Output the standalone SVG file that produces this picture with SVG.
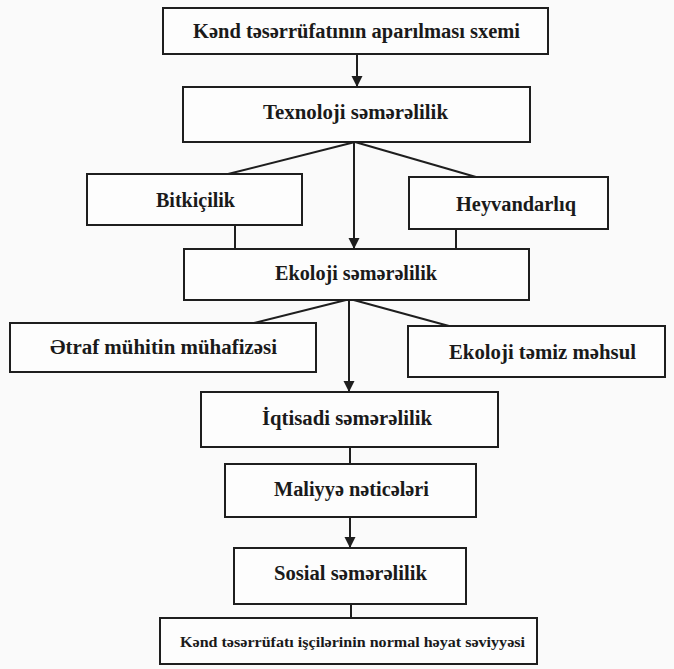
<svg xmlns="http://www.w3.org/2000/svg" width="674" height="669" viewBox="0 0 674 669">
<style>
.box{fill:#fdfdfd;stroke:#1e1e1e;stroke-width:2}
text{font-family:'Liberation Serif','DejaVu Serif','Times New Roman',serif;font-weight:700;font-size:20.5px;fill:#1a1a1a;text-anchor:middle;dominant-baseline:central}
.s{font-size:15.5px}
.c{stroke:#1e1e1e;stroke-width:2;fill:none}
</style>
<defs>
<marker id="ah" viewBox="0 0 10 10" refX="10" refY="5" markerWidth="5.5" markerHeight="6" orient="auto" markerUnits="strokeWidth">
<path d="M0,0 L10,5 L0,10 Z" fill="#1e1e1e"/>
</marker>
</defs>
<rect width="674" height="669" fill="#fafafa"/>
<g id="connectors">
<line class="c" x1="357" y1="54" x2="357" y2="87" marker-end="url(#ah)"/>
<line class="c" x1="355" y1="142" x2="228" y2="174"/>
<line class="c" x1="355" y1="142" x2="476" y2="177"/>
<line class="c" x1="354" y1="142" x2="354" y2="249" marker-end="url(#ah)"/>
<line class="c" x1="235" y1="225" x2="235" y2="249"/>
<line class="c" x1="456" y1="229" x2="456" y2="249"/>
<line class="c" x1="350" y1="299" x2="254" y2="323"/>
<line class="c" x1="350" y1="299" x2="449" y2="326"/>
<line class="c" x1="349" y1="299" x2="349" y2="392" marker-end="url(#ah)"/>
<line class="c" x1="350" y1="447" x2="350" y2="464"/>
<line class="c" x1="350" y1="517" x2="350" y2="548" marker-end="url(#ah)"/>
<line class="c" x1="351" y1="604" x2="351" y2="618"/>
</g>
<g id="n1"><rect class="box" x="163" y="8" width="385" height="46"/><text x="356.5" y="31" textLength="327" lengthAdjust="spacingAndGlyphs">Kənd təsərrüfatının aparılması sxemi</text></g>
<g id="n2"><rect class="box" x="183" y="87" width="347" height="55"/><text x="355.5" y="112" textLength="185" lengthAdjust="spacingAndGlyphs">Texnoloji səmərəlilik</text></g>
<g id="n3"><rect class="box" x="87" y="174" width="215" height="51"/><text x="195.5" y="200" textLength="79" lengthAdjust="spacingAndGlyphs">Bitkiçilik</text></g>
<g id="n4"><rect class="box" x="409" y="177" width="199" height="52"/><text x="516" y="204" textLength="120" lengthAdjust="spacingAndGlyphs">Heyvandarlıq</text></g>
<g id="n5"><rect class="box" x="184" y="249" width="345" height="51"/><text x="356" y="273" textLength="162" lengthAdjust="spacingAndGlyphs">Ekoloji səmərəlilik</text></g>
<g id="n6"><rect class="box" x="10" y="323" width="306" height="49"/><text x="163.5" y="347" textLength="227" lengthAdjust="spacingAndGlyphs">Ətraf mühitin mühafizəsi</text></g>
<g id="n7"><rect class="box" x="408" y="326" width="257" height="51"/><text x="542.5" y="352" textLength="187" lengthAdjust="spacingAndGlyphs">Ekoloji təmiz məhsul</text></g>
<g id="n8"><rect class="box" x="201" y="392" width="297" height="55"/><text x="347" y="418" textLength="170" lengthAdjust="spacingAndGlyphs">İqtisadi səmərəlilik</text></g>
<g id="n9"><rect class="box" x="225" y="464" width="251" height="53"/><text x="351.5" y="489" textLength="155" lengthAdjust="spacingAndGlyphs">Maliyyə nəticələri</text></g>
<g id="n10"><rect class="box" x="234" y="548" width="232" height="56"/><text x="350.5" y="573" textLength="153" lengthAdjust="spacingAndGlyphs">Sosial səmərəlilik</text></g>
<g id="n11"><rect class="box" x="160" y="618" width="377" height="46"/><text class="s" x="352.5" y="641" textLength="345" lengthAdjust="spacingAndGlyphs">Kənd təsərrüfatı işçilərinin normal həyat səviyyəsi</text></g>
</svg>
